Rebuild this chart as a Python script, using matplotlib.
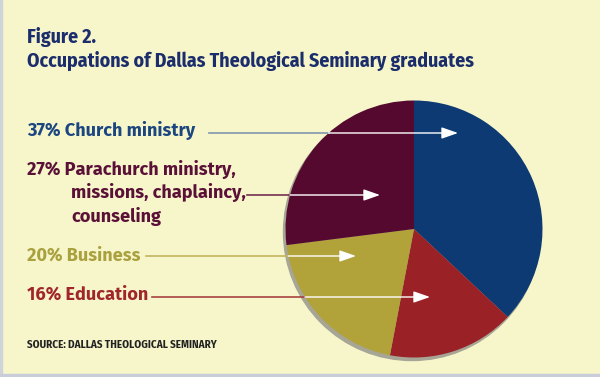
import numpy as np
import matplotlib.pyplot as plt
from matplotlib.patches import Circle, Rectangle

# data
labels = ["Church ministry", "Education", "Business",
          "Parachurch ministry,\nmissions, chaplaincy,\ncounseling"]
shares = [37, 16, 20, 27]
wedge_colors = ["#0d3a72", "#9a2227", "#b1a23a", "#55092f"]
text_colors = ["#1c4680", "#a0262c", "#a9a03e", "#5a1037"]
line_colors = ["#8096ad", "#a9423f", "#c1b55c", "#74304f"]

title1 = "Figure 2."
title2 = "Occupations of Dallas Theological Seminary graduates"
source = "SOURCE: DALLAS THEOLOGICAL SEMINARY"

W, H = 600, 377
bg = "#f6f6ca"
navy = "#1b2d6b"
font_c = ["Fira Sans Condensed", "DejaVu Sans"]
font_n = ["Fira Sans", "DejaVu Sans"]

fig = plt.figure(figsize=(6, 3.77), dpi=100, facecolor=bg)
ax = fig.add_axes([0, 0, 1, 1])
ax.set_facecolor(bg)
renderer = fig.canvas.get_renderer()


def py(y):
    # convert pixel row (top-down) into data y
    return H - y


def fit_size(txt, family, target, size=12):
    # font size so that txt spans about target pixels
    t = fig.text(0, 0, txt, fontsize=size, fontweight="bold", family=family)
    w = t.get_window_extent(renderer).width
    t.remove()
    return size * target / w


cx, cy, r = 414, py(229), 128.5

# shadow
ax.add_patch(Circle((cx - 2, cy - 3), r, color="#a7a595", zorder=1))
ax.pie(shares, colors=wedge_colors, startangle=90, counterclock=False,
       center=(cx, cy), radius=r, wedgeprops=dict(linewidth=0))
for w in ax.patches[1:]:
    w.set_zorder(2)

ax.set_xlim(0, W)
ax.set_ylim(0, H)
ax.set_aspect("auto")
ax.axis("off")

# borders
ax.add_patch(Rectangle((0, 0), 2, H, color="#cfd3da", zorder=0))
ax.add_patch(Rectangle((0, 0), W, 3, color="#c9cdd9", zorder=0))

ts = fit_size(title2, font_c, 448)
ax.text(27, py(43), title1, fontsize=ts, fontweight="bold", color=navy, family=font_c)
ax.text(27, py(67), title2, fontsize=ts, fontweight="bold", color=navy, family=font_c)
ss = fit_size(source, font_c, 189)
ax.text(27, py(348), source, fontsize=ss, fontweight="bold", color="#222222", family=font_c)

# label layout
order = [0, 3, 2, 1]
baselines = {0: [136], 3: [175, 198, 222], 2: [261], 1: [300]}
arrow_rows = {0: 133, 3: 195, 2: 256, 1: 297}
line_start = {0: 209, 3: 247, 2: 146, 1: 152}
arrow_tip = {0: 458, 3: 380, 2: 356, 1: 430}
ls = fit_size("37% Church ministry", font_n, 168)

for i in order:
    lines = labels[i].split("\n")
    for k, (txt, b) in enumerate(zip(lines, baselines[i])):
        prefix = f"{shares[i]}% " if k == 0 else ""
        x0 = 27 if k == 0 else 71
        ax.text(x0, py(b), prefix + txt, fontsize=ls, fontweight="bold",
                color=text_colors[i], family=font_n, zorder=3)
    yr = arrow_rows[i]
    dy = (H - yr) - cy
    edge = cx - np.sqrt(r ** 2 - dy ** 2)
    ax.plot([line_start[i], edge], [py(yr), py(yr)], color=line_colors[i], lw=1.2, zorder=3)
    ax.annotate("", xy=(arrow_tip[i], py(yr)), xytext=(edge, py(yr)),
                arrowprops=dict(arrowstyle="-|>,head_length=1.0,head_width=0.35",
                                color="white", lw=1.0, shrinkA=0, shrinkB=0),
                zorder=4)

fig.savefig("out.png", dpi=100, facecolor=bg)
